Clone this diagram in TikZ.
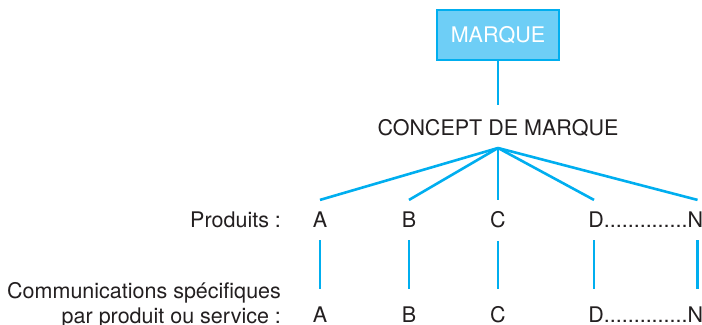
\documentclass[tikz,border=0pt]{standalone}
\usepackage{fontspec}
\setmainfont{TeX Gyre Heros}
\usepackage{xcolor}
\usepackage{tikz}
\usetikzlibrary{positioning, calc}
\definecolor{marquecyan}{RGB}{0, 174, 239}
\definecolor{marquefill}{RGB}{110, 206, 246}
\definecolor{textdark}{RGB}{35, 31, 32}

\begin{document}
\begin{tikzpicture}[
    x=0.5pt, y=-0.5pt,
    every node/.style={font=\fontsize{10.75}{12.5}\selectfont, text=textdark},
    marquebox/.style={draw=marquecyan, fill=marquefill, line width=1pt,
                      minimum width=61pt, minimum height=25pt, text=white},
    prodlabel/.style={anchor=base, inner sep=6pt},
    commlabel/.style={anchor=base, inner xsep=6pt, inner ysep=9pt},
    link/.style={draw=marquecyan, line width=1.3pt},
]
    \useasboundingbox (0,0) rectangle (702,325);

    % Brand and concept
    \node[marquebox] (marque) at (498,35) {MARQUE};
    \node[anchor=base, inner ysep=7.5pt] (concept) at (498,136) {CONCEPT DE MARQUE};
    \coordinate (hub) at (498,148);

    % Products
    \node[anchor=base east] (prodtitle) at (288,228) {Produits :};
    \node[prodlabel] (pA) at (320,228) {A};
    \node[prodlabel] (pB) at (409,228) {B};
    \node[prodlabel] (pC) at (498,228) {C};
    \node[prodlabel, anchor=base west, inner sep=0pt] (pD) at (588,228) {D..............N};

    % Specific communications
    \node[anchor=east, align=right] (commtitle) at (288,305)
        {Communications spécifiques\\par produit ou service :};
    \node[commlabel] (cA) at (320,323) {A};
    \node[commlabel] (cB) at (409,323) {B};
    \node[commlabel] (cC) at (498,323) {C};
    \node[commlabel, anchor=base west, inner xsep=0pt] (cD) at (588,323) {D..............N};

    % Links
    \draw[link] (marque) -- (concept.north);
    \draw[link] (hub) -- (pA.north);
    \draw[link] (hub) -- (pB.north);
    \draw[link] (hub) -- (pC.north);
    \draw[link] (hub) -- ([xshift=3pt, yshift=6pt]pD.north west);
    \draw[link] (hub) -- ([xshift=-3pt, yshift=6pt]pD.north east);
    \draw[link] (pA) -- (cA);
    \draw[link] (pB) -- (cB);
    \draw[link] (pC) -- (cC);
    \draw[link] ([xshift=3pt, yshift=-6pt]pD.south west) -- ([xshift=3pt]cD.north west);
    \draw[link] ([xshift=-3pt, yshift=-6pt]pD.south east) -- ([xshift=-3pt]cD.north east);
\end{tikzpicture}
\end{document}
